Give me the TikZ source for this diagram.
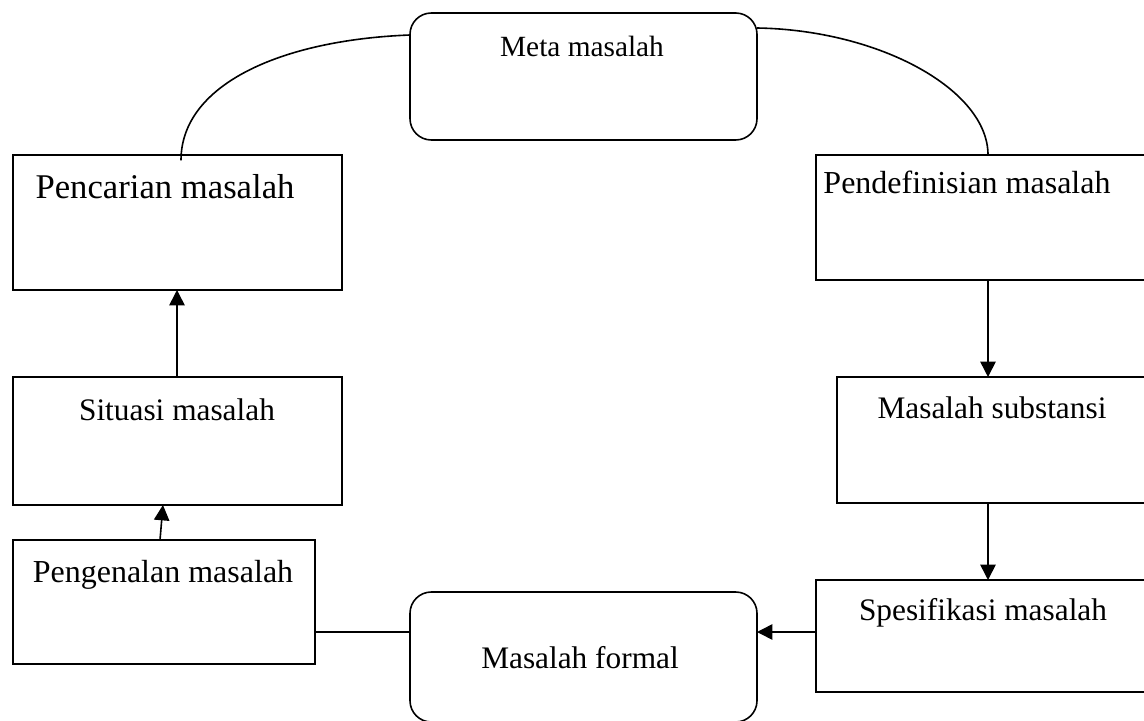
\documentclass[tikz,border=0pt]{standalone}
\usepackage{fontspec}
\setmainfont{Liberation Serif}
\usetikzlibrary{arrows.meta}
\begin{document}
\begin{tikzpicture}[x=0.75pt,y=-0.75pt,
  box/.style={draw,line width=1.2pt,inner sep=0pt,outer sep=0pt},
  rbox/.style={box,rounded corners=16pt},
  lbl/.style={anchor=base,inner sep=0pt,font=\fontsize{23.5pt}{28pt}\selectfont},
  slbl/.style={lbl,font=\fontsize{22pt}{26pt}\selectfont},
  blbl/.style={lbl,font=\fontsize{26pt}{30pt}\selectfont},
  arr/.style={line width=1.2pt,-{Triangle[length=11.5pt,width=11.5pt]}},
  con/.style={line width=1.2pt}]
\useasboundingbox (0,0) rectangle (1144,720);
\clip (0,0) rectangle (1144,720);
% boxes
\node[rbox,minimum width=260.25pt,minimum height=95.25pt] (meta) at (583.5,76.5) {};
\node[box,minimum width=246.75pt,minimum height=101.25pt] (pencarian) at (177.5,222.5) {};
\node[box,minimum width=252pt,minimum height=93.75pt] (pendef) at (984,217.5) {};
\node[box,minimum width=236.25pt,minimum height=94.5pt] (subst) at (994.5,440) {};
\node[box,minimum width=252pt,minimum height=84pt] (spesif) at (984,636) {};
\node[rbox,minimum width=260.25pt,minimum height=97.5pt] (formal) at (583.5,657) {};
\node[box,minimum width=226.5pt,minimum height=93pt] (pengenalan) at (164,602) {};
\node[box,minimum width=246.75pt,minimum height=96pt] (situasi) at (177.5,441) {};
% labels
\node[slbl] (tmeta) at (582,57) {Meta masalah};
\node[blbl] (tpencarian) at (165,199) {Pencarian masalah};
\node[lbl,font=\fontsize{24pt}{28pt}\selectfont] (tpendef) at (967,194) {Pendefinisian masalah};
\node[lbl] (tsituasi) at (177,420) {Situasi masalah};
\node[lbl] (tsubst) at (992,418) {Masalah substansi};
\node[lbl] (tspesif) at (983,620) {Spesifikasi masalah};
\node[lbl,font=\fontsize{24pt}{28pt}\selectfont] (tpengenalan) at (163,582) {Pengenalan masalah};
\node[lbl] (tformal) at (580,668) {Masalah formal};
% helper coordinates
\coordinate (xl) at (181,0);
\coordinate (yl) at (0,35);
\coordinate (yr) at (0,28);
\coordinate (xr) at (988,0);
\coordinate (xs) at (177,0);
\coordinate (ybot) at (0,632);
% arcs
\draw[con] ([yshift=-4pt]pencarian.north -| xl) .. controls (181,85) and (280,40) .. (meta.west |- yl);
\draw[con] (meta.east |- yr) .. controls (880,30) and (988,90) .. (pendef.north -| xr);
% arrows
\draw[arr] (situasi.north -| xs) -- (pencarian.south -| xs);
\draw[arr] ([xshift=-3pt]pengenalan.north) -- ([xshift=-10.9pt]situasi.south);
\draw[arr] (pendef.south -| xr) -- (subst.north -| xr);
\draw[arr] (subst.south -| xr) -- (spesif.north -| xr);
\draw[arr] (spesif.west |- ybot) -- (formal.east |- ybot);
\draw[con] (pengenalan.east |- ybot) -- (formal.west |- ybot);
\end{tikzpicture}
\end{document}
